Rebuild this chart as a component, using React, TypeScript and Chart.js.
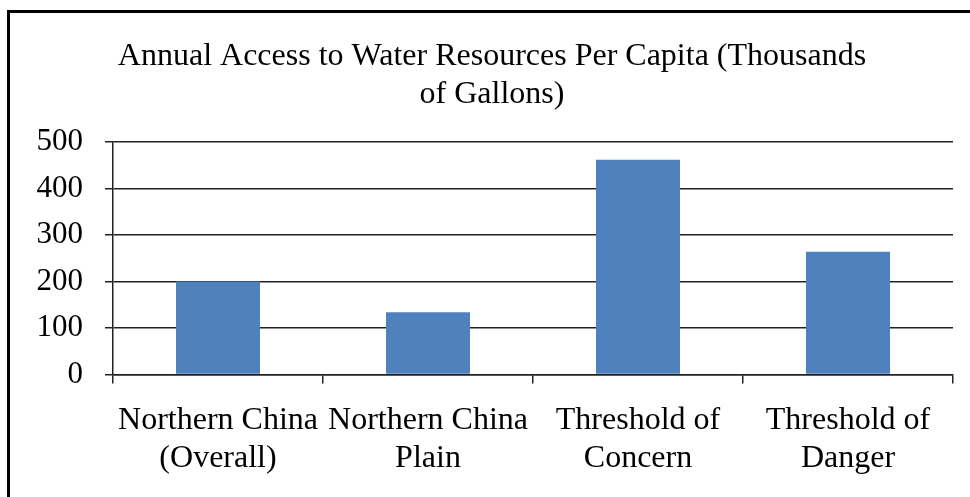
import React, { useEffect, useRef } from "react";
import { Chart, registerables } from "chart.js";

Chart.register(...registerables);

const categories: string[][] = [
  ["Northern China", "(Overall)"],
  ["Northern China", "Plain"],
  ["Threshold of", "Concern"],
  ["Threshold of", "Danger"],
];
const waterPerCapita: number[] = [200, 134, 462, 264];
const yTicks: number[] = [0, 100, 200, 300, 400, 500];
const titleLines: string[] = [
  "Annual Access to Water Resources Per Capita (Thousands",
  "of Gallons)",
];

const SERIF = '"Liberation Serif", "Times New Roman", serif';

// Two-line heading, centred a little right of the plot's middle
const headingPlugin = {
  id: "heading",
  afterDraw(chart: any) {
    const ctx: CanvasRenderingContext2D = chart.ctx;
    ctx.save();
    ctx.font = `32px ${SERIF}`;
    ctx.fillStyle = "#000";
    ctx.textAlign = "center";
    ctx.textBaseline = "alphabetic";
    const cx = 492;
    titleLines.forEach((line, i) => {
      ctx.fillText(line, cx, 65 + i * 38);
    });
    ctx.restore();
  },
};

export default function App() {
  const canvasRef = useRef<HTMLCanvasElement | null>(null);

  useEffect(() => {
    if (!canvasRef.current) return;
    const chart = new Chart(canvasRef.current, {
      type: "bar",
      data: {
        labels: categories,
        datasets: [
          {
            data: waterPerCapita,
            backgroundColor: "#4F81BD",
            borderWidth: 0,
            barPercentage: 0.4,
            categoryPercentage: 1,
          },
        ],
      },
      options: {
        animation: false,
        responsive: false,
        maintainAspectRatio: false,
        layout: { padding: { left: 0, right: 17, top: 142, bottom: 0 } },
        plugins: {
          legend: { display: false },
          tooltip: { enabled: false },
          title: { display: false },
        },
        scales: {
          x: {
            afterFit: (scale: any) => {
              scale.height = 122.5;
            },
            grid: {
              display: true,
              drawOnChartArea: false,
              drawTicks: true,
              tickLength: 9,
              color: "#222",
              lineWidth: 1.5,
              offset: true,
            },
            border: { display: true, color: "#222", width: 1.5 },
            ticks: {
              color: "#000",
              padding: 18,
              maxRotation: 0,
              autoSkip: false,
              font: { family: SERIF, size: 32, lineHeight: "38px" },
            },
          },
          y: {
            min: 0,
            max: 500,
            afterFit: (scale: any) => {
              scale.width = 113;
            },
            afterBuildTicks: (scale: any) => {
              scale.ticks = yTicks.map((v) => ({ value: v }));
            },
            grid: {
              display: true,
              drawTicks: true,
              tickLength: 8,
              color: "#222",
              lineWidth: 1.5,
            },
            border: { display: true, color: "#222", width: 1.5 },
            ticks: {
              color: "#000",
              padding: 22,
              font: { family: SERIF, size: 31 },
            },
          },
        },
      },
      plugins: [headingPlugin],
    });
    return () => chart.destroy();
  }, []);

  return (
    <div style={{ position: "absolute", left: 0, top: 0, width: 970, height: 497, background: "#fff" }}>
      <div
        style={{
          position: "absolute",
          left: 7,
          top: 10,
          width: 970,
          height: 497,
          borderTop: "3px solid #000",
          borderLeft: "3px solid #000",
          boxSizing: "border-box",
        }}
      />
      <canvas ref={canvasRef} width={970} height={497} style={{ position: "absolute", left: 0, top: 0, display: "block" }} />
    </div>
  );
}
